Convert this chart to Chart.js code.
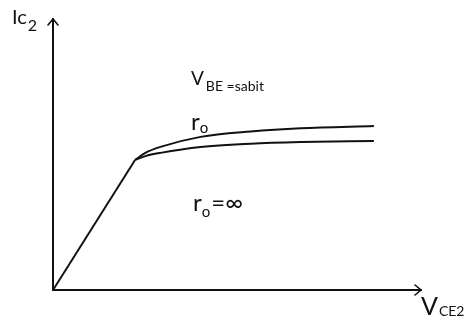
<!DOCTYPE html>
<html>
<head>
<meta charset="utf-8">
<script src="https://cdn.jsdelivr.net/npm/chart.js@4.4.1/dist/chart.umd.min.js"></script>
<style>
  html, body { margin: 0; padding: 0; background: #fff; }
  #wrap { width: 469px; height: 332px; }
</style>
</head>
<body>
<div id="wrap"><canvas id="chart"></canvas></div>
<script>
// Kolektör karakteristiği: doğrusal bölge + doyma sonrası iki eğri
const linearVce = [0, 2.23];
const linearIc  = [0, 4.80];

// r_o sonlu -> eğim var
const roVce = [2.23, 2.51, 2.92, 4.01, 5.37, 6.73, 8.72];
const roIc  = [4.80, 5.06, 5.28, 5.65, 5.85, 5.97, 6.05];

// r_o = sonsuz -> neredeyse düz
const infVce = [2.23, 2.51, 2.92, 4.01, 5.37, 6.73, 8.72];
const infIc  = [4.80, 4.94, 5.06, 5.28, 5.40, 5.46, 5.50];

const FONT = 'Lato, "Open Sans", sans-serif';
const INK = '#111';

const toPts = (xs, ys) => xs.map((x, i) => ({ x, y: ys[i] }));

function lineSet(data, curved) {
  return {
    data,
    borderColor: INK,
    borderWidth: 2,
    pointRadius: 0,
    fill: false,
    tension: curved ? 0.4 : 0,
    cubicInterpolationMode: curved ? 'monotone' : 'default',
  };
}

// eksen okları ve yazılar
const axesPlugin = {
  id: 'axes',
  afterDraw(chart) {
    const { ctx, chartArea: a } = chart;
    const x0 = a.left, y0 = a.bottom;
    ctx.save();
    ctx.strokeStyle = INK;
    ctx.lineWidth = 2;
    ctx.lineCap = 'square';
    ctx.beginPath();
    ctx.moveTo(x0, a.top);
    ctx.lineTo(x0, y0);
    ctx.lineTo(a.right, y0);
    ctx.stroke();

    ctx.lineWidth = 1.6;
    ctx.lineCap = 'round';
    ctx.beginPath();
    ctx.moveTo(x0 - 5, a.top + 6);
    ctx.lineTo(x0, a.top);
    ctx.lineTo(x0 + 5, a.top + 6);
    ctx.moveTo(a.right - 6, y0 - 5);
    ctx.lineTo(a.right, y0);
    ctx.lineTo(a.right - 6, y0 + 5);
    ctx.stroke();

    ctx.fillStyle = INK;
    ctx.textBaseline = 'alphabetic';
    ctx.textAlign = 'left';
    // ana metin + hemen arkasına alt indis
    const sub = (main, size, subTxt, subSize, x, y, dy, gap) => {
      ctx.font = size + 'px ' + FONT;
      ctx.fillText(main, x, y);
      const w = ctx.measureText(main).width;
      ctx.font = subSize + 'px ' + FONT;
      ctx.fillText(subTxt, x + w + gap, y + dy);
      ctx.font = subSize + 'px ' + FONT;
      return x + w + gap + ctx.measureText(subTxt).width;
    };

    sub('Ic', 20, '2', 16, 12, 24, 7, 1);
    sub('V', 19, 'BE =sabit', 14, 191, 85, 6, 2);
    sub('r', 24, 'o', 15, 191, 130, 3, 0);
    const end = sub('r', 24, 'o', 15, 193, 211, 6, 0);
    ctx.font = '24px ' + FONT;
    ctx.fillText('=∞', end + 1, 211);
    sub('V', 25, 'CE2', 14, 421, 315, 1, 1);
    ctx.restore();
  }
};

new Chart(document.getElementById('chart'), {
  type: 'line',
  data: {
    datasets: [
      lineSet(toPts(linearVce, linearIc), false),
      lineSet(toPts(roVce, roIc), true),
      lineSet(toPts(infVce, infIc), true),
    ]
  },
  options: {
    responsive: true,
    maintainAspectRatio: false,
    animation: false,
    layout: { padding: { left: 53, right: 48, top: 19, bottom: 42 } },
    plugins: { legend: { display: false }, tooltip: { enabled: false } },
    scales: {
      x: { type: 'linear', min: 0, max: 10, display: false },
      y: { type: 'linear', min: 0, max: 10, display: false },
    }
  },
  plugins: [axesPlugin]
});
</script>
</body>
</html>
